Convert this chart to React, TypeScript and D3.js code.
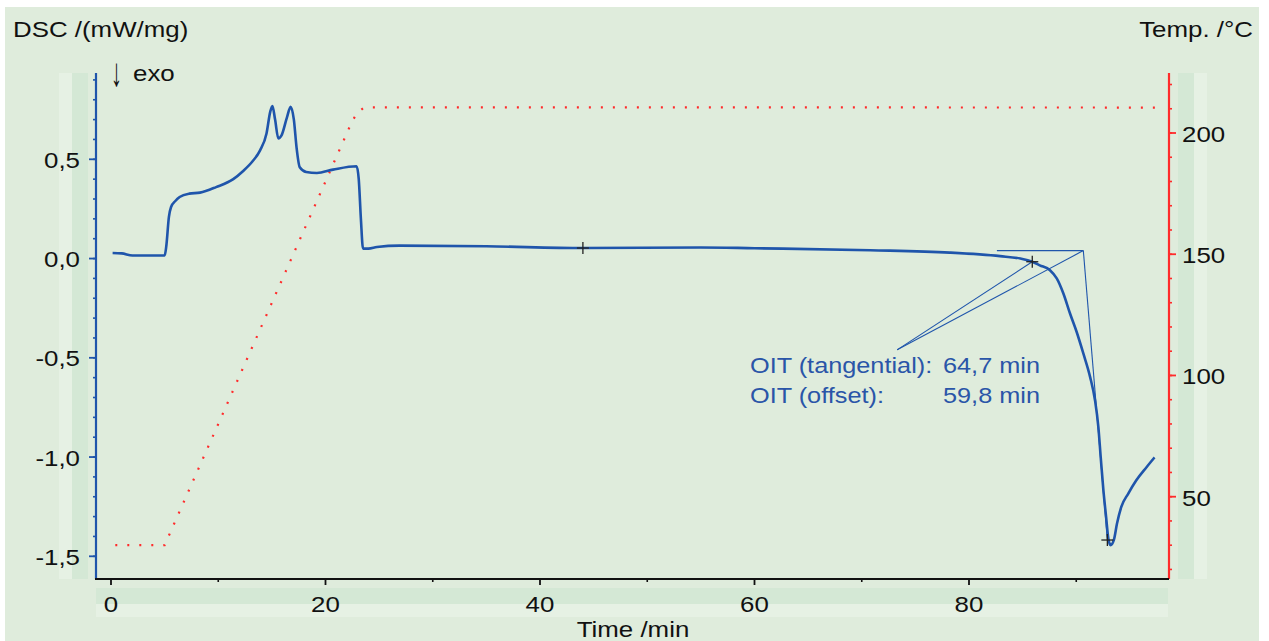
import * as d3 from "d3";

// DSC signal (mW/mg) against time (min)
const dscTime = [
  0.15, 1.0, 2.0, 5.0, 5.15, 5.4, 5.6, 6.0, 6.4, 7.3, 8.3, 9.8, 11.4, 12.3,
  13.2, 13.9, 14.5, 14.85, 15.05, 15.3, 15.6, 15.9, 16.4, 16.75, 17.05, 17.3,
  17.6, 18.2, 19.2, 20.7, 22.9, 23.1, 23.3, 23.5, 24.0, 24.8, 26.9, 35, 44,
  55, 60, 70.8, 78.2, 82.9, 84.8, 85.9, 86.6, 87.55, 88.18, 88.8, 89.42,
  90.04, 90.66, 91.29, 91.75, 92.06, 92.28, 92.53, 92.78, 92.99, 93.2, 93.5,
  93.8, 94.2, 94.85, 95.6, 96.57, 97.3,
];
const dscValue = [
  0.028, 0.026, 0.015, 0.015, 0.06, 0.21, 0.26, 0.29, 0.31, 0.327, 0.332,
  0.36, 0.4, 0.44, 0.49, 0.545, 0.63, 0.74, 0.768, 0.7, 0.605, 0.62, 0.71,
  0.765, 0.7, 0.56, 0.46, 0.436, 0.431, 0.448, 0.465, 0.4, 0.2, 0.05, 0.05,
  0.058, 0.065, 0.062, 0.053, 0.056, 0.052, 0.042, 0.03, 0.012, 0.0, -0.016,
  -0.034, -0.059, -0.1, -0.176, -0.277, -0.37, -0.478, -0.596, -0.714, -0.848,
  -1.0, -1.167, -1.3, -1.41, -1.444, -1.419, -1.335, -1.251, -1.184, -1.117,
  -1.05, -1.002,
];

// Temperature programme (°C)
const tempTime = [0.4, 5.0, 22.5, 23.0, 23.5, 24.2, 97.4];
const tempValue = [30, 30, 205, 208.5, 210.2, 210.6, 210.5];

// evaluation marks: [time, dsc]
const crossMarks: [number, number][] = [
  [44, 0.053],
  [85.9, -0.016],
  [92.9, -1.418],
];
// OIT construction: baseline / tangent intersection and label anchor
const oitCorner: [number, number] = [90.66, 0.04];
const baselineStart: [number, number] = [82.6, 0.04];
const labelAnchor: [number, number] = [73.3, -0.46];

const xMajor = [0, 20, 40, 60, 80];
const xMinor = [10, 30, 50, 70, 90];
const yLeftMajor = [-1.5, -1.0, -0.5, 0.0, 0.5];
const yRightMajor = [50, 100, 150, 200];

const W = 1269;
const H = 641;
const FONT = "'Liberation Sans', Arial, sans-serif";
const BLUE = "#1f55ab";
const RED = "#ff2b2b";
const SX = 1.15;

const plot = { left: 96, right: 1168, top: 73, bottom: 579 };

const x = d3.scaleLinear().domain([0, 20]).range([111, 325.5]);
const yL = d3.scaleLinear().domain([-1.5, 0.5]).range([556.3, 159.3]);
const yR = d3.scaleLinear().domain([50, 200]).range([496.7, 133]);

const fmtComma = (v: number) => d3.format(".1f")(v).replace(".", ",").replace("−", "-");

// stretched text (the reference font is wider than Arial)
const Lbl = ({
  x0,
  y0,
  anchor = "start",
  fill = "#111",
  size = 22.5,
  sx = SX,
  children,
}: {
  x0: number;
  y0: number;
  anchor?: string;
  fill?: string;
  size?: number;
  sx?: number;
  children: any;
}) => (
  <text
    transform={`translate(${x0},${y0}) scale(${sx},1)`}
    textAnchor={anchor}
    fill={fill}
    fontSize={size}
    fontFamily={FONT}
  >
    {children}
  </text>
);

export default function App() {
  const dscData = dscTime.map((t, i) => [t, dscValue[i]] as [number, number]);
  const tempData = tempTime.map((t, i) => [t, tempValue[i]] as [number, number]);

  const dscLine = d3
    .line<[number, number]>()
    .x((d) => x(d[0]))
    .y((d) => yL(d[1]))
    .curve(d3.curveMonotoneX);
  const tempLine = d3
    .line<[number, number]>()
    .x((d) => x(d[0]))
    .y((d) => yR(d[1]));

  const leftMinor = d3.range(-15, 10).map((v) => v / 10);
  const rightMinor = d3.range(20, 230, 10);

  const pt = (p: [number, number]) => [x(p[0]), yL(p[1])];
  const [cx, cy] = pt(oitCorner);
  const [bx, by] = pt(baselineStart);
  const [ax, ay] = pt(labelAnchor);
  const [m1x, m1y] = pt(crossMarks[1]);
  const [m2x, m2y] = pt(crossMarks[2]);

  return (
    <svg
      width={W}
      height={H}
      style={{ position: "absolute", left: 0, top: 0, display: "block" }}
    >
      <rect x={0} y={0} width={W} height={H} fill="#ffffff" />
      <rect x={5} y={7} width={1254} height={H - 7} fill="#dfecdc" />

      {/* label bands */}
      <rect x={59} y={plot.top} width={13} height={plot.bottom - plot.top} fill="#e6f1e4" />
      <rect x={72} y={plot.top} width={16} height={plot.bottom - plot.top} fill="#d4e8d5" />
      <rect x={1178} y={plot.top} width={16} height={plot.bottom - plot.top} fill="#d4e8d5" />
      <rect x={1194} y={plot.top} width={13} height={plot.bottom - plot.top} fill="#e6f1e4" />
      <rect x={plot.left} y={588} width={plot.right - plot.left} height={16} fill="#d4e8d5" />
      <rect x={plot.left} y={604} width={plot.right - plot.left} height={13} fill="#e6f1e4" />

      {/* axis titles */}
      <Lbl x0={13} y0={37}>DSC /(mW/mg)</Lbl>
      <Lbl x0={1253} y0={37} anchor="end">Temp. /°C</Lbl>
      <Lbl x0={111} y0={86} size={40} sx={0.55}>↓</Lbl>
      <Lbl x0={133} y0={81}>exo</Lbl>
      <Lbl x0={633} y0={637} anchor="middle">Time /min</Lbl>

      {/* temperature */}
      <path
        d={tempLine(tempData) || ""}
        fill="none"
        stroke={RED}
        strokeWidth={2.2}
        strokeDasharray="2 10"
      />

      {/* OIT construction lines */}
      <g stroke={BLUE} strokeWidth={1.1} fill="none">
        <line x1={bx} y1={by} x2={cx} y2={cy} />
        <line x1={cx} y1={cy} x2={m2x} y2={m2y} />
        <line x1={ax} y1={ay} x2={cx} y2={cy} />
        <line x1={ax} y1={ay} x2={m1x} y2={m1y} />
      </g>

      {/* DSC curve */}
      <path d={dscLine(dscData) || ""} fill="none" stroke={BLUE} strokeWidth={2.6} />

      {/* marks */}
      {crossMarks.map((m, i) => (
        <g key={i} stroke="#222" strokeWidth={1.3}>
          <line x1={x(m[0]) - 6} x2={x(m[0]) + 6} y1={yL(m[1])} y2={yL(m[1])} />
          <line x1={x(m[0])} x2={x(m[0])} y1={yL(m[1]) - 6} y2={yL(m[1]) + 6} />
        </g>
      ))}

      <Lbl x0={750} y0={373} fill="#2a55a8" size={22}>OIT (tangential):</Lbl>
      <Lbl x0={943} y0={373} fill="#2a55a8" size={22}>64,7 min</Lbl>
      <Lbl x0={750} y0={403} fill="#2a55a8" size={22}>OIT (offset):</Lbl>
      <Lbl x0={943} y0={403} fill="#2a55a8" size={22}>59,8 min</Lbl>

      {/* left axis */}
      <line x1={plot.left} x2={plot.left} y1={plot.top} y2={plot.bottom} stroke={BLUE} strokeWidth={2.2} />
      {leftMinor.map((v) => (
        <line key={v} x1={plot.left - 3} x2={plot.left} y1={yL(v)} y2={yL(v)} stroke={BLUE} strokeWidth={1.6} />
      ))}
      {yLeftMajor.map((v) => (
        <g key={v}>
          <line x1={plot.left - 7} x2={plot.left} y1={yL(v)} y2={yL(v)} stroke={BLUE} strokeWidth={1.8} />
          <Lbl x0={80} y0={yL(v) + 8.5} anchor="end">{fmtComma(v)}</Lbl>
        </g>
      ))}

      {/* right axis */}
      <line x1={1169} x2={1169} y1={plot.top} y2={plot.bottom} stroke={RED} strokeWidth={2.2} />
      {rightMinor.map((v) => (
        <line key={v} x1={1169} x2={1172} y1={yR(v)} y2={yR(v)} stroke={RED} strokeWidth={1.6} />
      ))}
      {yRightMajor.map((v) => (
        <g key={v}>
          <line x1={1169} x2={1176} y1={yR(v)} y2={yR(v)} stroke={RED} strokeWidth={1.8} />
          <Lbl x0={1182} y0={yR(v) + 9}>{v}</Lbl>
        </g>
      ))}

      {/* bottom axis */}
      <line x1={plot.left - 1} x2={plot.right + 1} y1={plot.bottom} y2={plot.bottom} stroke="#111" strokeWidth={2.2} />
      {xMinor.map((v) => (
        <line key={v} x1={x(v)} x2={x(v)} y1={plot.bottom} y2={plot.bottom + 3} stroke="#111" strokeWidth={1.6} />
      ))}
      {xMajor.map((v) => (
        <g key={v}>
          <line x1={x(v)} x2={x(v)} y1={plot.bottom} y2={plot.bottom + 6} stroke="#111" strokeWidth={1.8} />
          <Lbl x0={x(v)} y0={612} anchor="middle">{v}</Lbl>
        </g>
      ))}
    </svg>
  );
}
